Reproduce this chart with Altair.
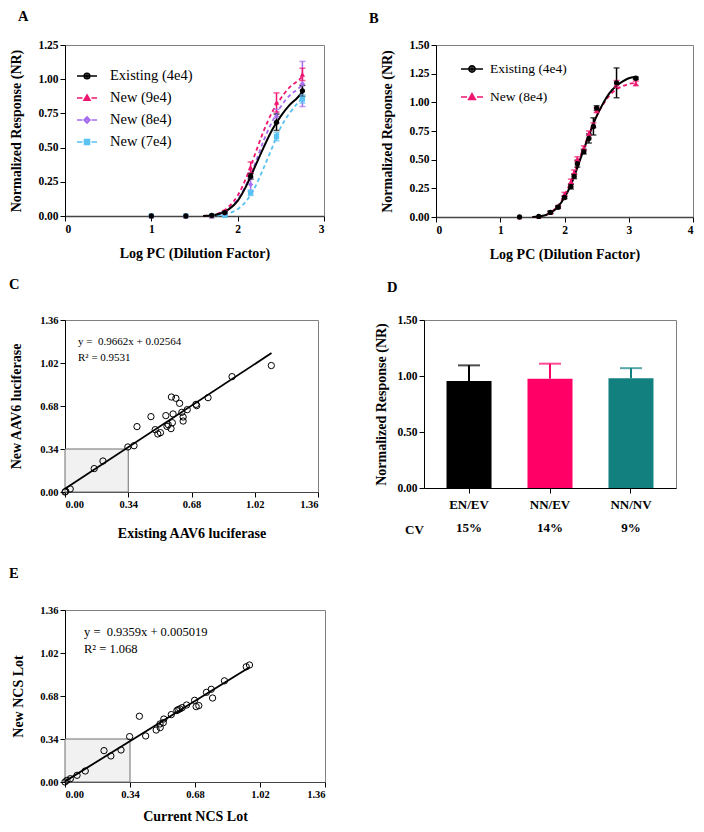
import altair as alt
import pandas as pd

FONT = "Liberation Serif"

# ---------------- Panel A data ----------------
A_series = ["Existing (4e4)", "New (9e4)", "New (8e4)", "New (7e4)"]
A_colors = ["#000000", "#F0166F", "#A56CF0", "#58C2F2"]
A_shapes = ["circle", "triangle-up", "diamond", "square"]
A_dashes = [[1, 0], [4, 3], [4, 3], [4, 3]]
A_x = [1.0, 1.4, 1.7, 1.85, 2.15, 2.45, 2.75]
A_y_exist = [0.0, 0.0, 0.005, 0.025, 0.29, 0.685, 0.915]
A_e_exist = [0.0, 0.0, 0.0, 0.006, 0.02, 0.06, 0.04]
A_y_new9 = [0.0, 0.0, 0.0, 0.03, 0.355, 0.83, 1.035]
A_e_new9 = [0.0, 0.0, 0.0, 0.01, 0.04, 0.07, 0.045]
A_y_new8 = [0.0, 0.0, 0.0, 0.02, 0.23, 0.73, 0.965]
A_e_new8 = [0.0, 0.0, 0.0, 0.01, 0.05, 0.05, 0.165]
A_y_new7 = [0.0, 0.0, 0.0, 0.005, 0.17, 0.58, 0.855]
A_e_new7 = [0.0, 0.0, 0.0, 0.005, 0.02, 0.03, 0.03]
A_cx = [1.6, 1.7, 1.8, 1.9, 2.0, 2.1, 2.2, 2.3, 2.4, 2.5, 2.6, 2.7, 2.75]
A_c_exist = [0.0, 0.004, 0.018, 0.05, 0.11, 0.22, 0.36, 0.50, 0.63, 0.73, 0.81, 0.87, 0.91]
A_c_new9 = [0.0, 0.006, 0.025, 0.07, 0.15, 0.28, 0.45, 0.62, 0.76, 0.86, 0.94, 0.99, 1.02]
A_c_new8 = [0.0, 0.005, 0.02, 0.055, 0.12, 0.23, 0.38, 0.55, 0.69, 0.80, 0.88, 0.93, 0.96]
A_c_new7 = [0.0, 0.0, 0.006, 0.02, 0.05, 0.11, 0.21, 0.35, 0.50, 0.65, 0.75, 0.83, 0.865]
A_xticks = [0, 1, 2, 3]
A_yticks = [0, 0.25, 0.5, 0.75, 1.0, 1.25]

# ---------------- Panel B data ----------------
B_series = ["Existing (4e4)", "New (8e4)"]
B_colors = ["#000000", "#F0166F"]
B_shapes = ["circle", "triangle-up"]
B_dashes = [[1, 0], [4, 3]]
B_x = [1.30, 1.60, 1.78, 1.90, 2.00, 2.10, 2.15, 2.20, 2.30, 2.38, 2.45, 2.50, 2.81, 3.11]
B_y_exist = [0.0, 0.005, 0.04, 0.085, 0.17, 0.265, 0.355, 0.465, 0.57, 0.685, 0.79, 0.95, 1.17, 1.21]
B_e_exist = [0.0, 0.0, 0.01, 0.01, 0.01, 0.02, 0.02, 0.03, 0.02, 0.04, 0.075, 0.02, 0.13, 0.01]
B_y_new8 = [0.0, 0.005, 0.04, 0.09, 0.20, 0.31, 0.39, 0.505, 0.60, 0.73, 0.80, 0.93, 1.16, 1.165]
B_e_new8 = [0.0, 0.0, 0.01, 0.01, 0.015, 0.02, 0.02, 0.02, 0.02, 0.02, 0.02, 0.02, 0.03, 0.02]
B_cx = [1.5, 1.6, 1.7, 1.8, 1.9, 2.0, 2.1, 2.2, 2.3, 2.4, 2.5, 2.6, 2.7, 2.8, 2.9, 3.0, 3.1]
B_c_exist = [0.0, 0.005, 0.015, 0.04, 0.09, 0.17, 0.28, 0.43, 0.59, 0.74, 0.88, 0.99, 1.08, 1.14, 1.18, 1.21, 1.22]
B_c_new8 = [0.0, 0.005, 0.017, 0.045, 0.10, 0.19, 0.31, 0.46, 0.61, 0.75, 0.88, 0.98, 1.06, 1.11, 1.14, 1.16, 1.17]
B_xticks = [0, 1, 2, 3, 4]
B_yticks = [0, 0.25, 0.5, 0.75, 1.0, 1.25, 1.5]

# ---------------- Panel C data ----------------
C_x = [0.0, 0.004, 0.028, 0.157, 0.204, 0.338, 0.371, 0.387, 0.462, 0.485, 0.499, 0.513,
       0.542, 0.548, 0.555, 0.572, 0.570, 0.577, 0.581, 0.596, 0.616, 0.628, 0.635, 0.635,
       0.657, 0.704, 0.708, 0.769, 0.898, 1.109]
C_y = [0.0, 0.005, 0.024, 0.185, 0.245, 0.356, 0.366, 0.517, 0.596, 0.493, 0.459, 0.469,
       0.604, 0.519, 0.532, 0.751, 0.501, 0.548, 0.617, 0.741, 0.701, 0.630, 0.593, 0.561,
       0.651, 0.693, 0.683, 0.746, 0.912, 1.0]
C_slope, C_intercept = 0.9662, 0.02564
C_fit_x = [0.0, 1.11]
C_eq = "y =\u00a0 0.9662x + 0.02564"
C_r2 = "R\u00b2 = 0.9531"

# ---------------- Panel D data ----------------
D_cats = ["EN/EV", "NN/EV", "NN/NV"]
D_mean = [0.955, 0.975, 0.98]
D_top = [1.095, 1.11, 1.07]
D_cv = ["15%", "14%", "9%"]
D_colors = ["#000000", "#FF0066", "#138080"]

# ---------------- Panel E data ----------------
E_x = [0.0, 0.010, 0.028, 0.063, 0.106, 0.204, 0.240, 0.293, 0.338, 0.389, 0.422, 0.477,
       0.498, 0.497, 0.514, 0.517, 0.556, 0.585, 0.592, 0.601, 0.613, 0.636, 0.678, 0.686,
       0.700, 0.740, 0.765, 0.772, 0.834, 0.948, 0.965]
E_y = [0.0, 0.013, 0.026, 0.053, 0.087, 0.248, 0.206, 0.253, 0.359, 0.520, 0.364, 0.411,
       0.430, 0.459, 0.469, 0.498, 0.533, 0.565, 0.572, 0.578, 0.588, 0.609, 0.646, 0.596,
       0.604, 0.709, 0.733, 0.664, 0.800, 0.911, 0.925]
E_slope, E_intercept = 0.9359, 0.005019
E_fit_x = [0.0, 0.965]
E_eq = "y =\u00a0 0.9359x + 0.005019"
E_r2 = "R\u00b2 = 1.068"

S_ticks = [0, 0.34, 0.68, 1.02, 1.36]

# legend symbol paths (line segment + marker), unit box [-1, 1]
LEG_SOLID = "M-1,0H1"
LEG_DASH = "M-1,0H-0.45M0.45,0H1"
MK_CIRCLE = ("M-0.28,0A0.28,0.28 0 1,0 0.28,0A0.28,0.28 0 1,0 -0.28,0Z"
             "M-0.1,0A0.1,0.1 0 1,0 0.1,0A0.1,0.1 0 1,0 -0.1,0Z")
MK_TRI = "M0,-0.3L0.3,0.22L-0.3,0.22ZM0,-0.08L0.1,0.1L-0.1,0.1Z"
MK_DIAM = "M0,-0.32L0.3,0L0,0.32L-0.3,0ZM0,-0.12L0.12,0L0,0.12L-0.12,0Z"
MK_SQ = "M-0.25,-0.25H0.25V0.25H-0.25ZM-0.1,-0.1H0.1V0.1H-0.1Z"
A_legpaths = [LEG_SOLID + MK_CIRCLE, LEG_DASH + MK_TRI, LEG_DASH + MK_DIAM, LEG_DASH + MK_SQ]
B_legpaths = [LEG_SOLID + MK_CIRCLE, LEG_DASH + MK_TRI]

AX_FONT = dict(labelFont=FONT, titleFont=FONT, labelFontWeight="bold", titleFontWeight="bold",
               labelColor="black", titleColor="black")


def long_points(series, xs, ys_list, es_list):
    rows = []
    for s, ys, es in zip(series, ys_list, es_list):
        for x, y, e in zip(xs, ys, es):
            rows.append(dict(series=s, x=x, y=y, lo=y - e, hi=y + e, err=e))
    return pd.DataFrame(rows)


def long_curves(series, xs, ys_list):
    rows = []
    for s, ys in zip(series, ys_list):
        for x, y in zip(xs, ys):
            rows.append(dict(series=s, x=x, y=y))
    return pd.DataFrame(rows)


def letter_title(text, dx, offset):
    return alt.TitleParams(text=text, anchor="start", frame="group", dx=dx, offset=offset,
                           baseline="alphabetic", font=FONT, fontSize=14.5,
                           fontWeight="bold", color="black")


def dose_panel(series, colors, shapes, dashes, legpaths, dfp, dfc, xdom, xticks, ydom, yticks,
               w, h, letter, ldx, loff, ytx, xty, legx, legy, legsize, legrow, legoff, legfs):
    xs = alt.Scale(domain=xdom, nice=False, zero=False)
    ys = alt.Scale(domain=ydom, nice=False)
    xax = alt.Axis(values=xticks, format="d", title="Log PC (Dilution Factor)", titleY=xty,
                   titleBaseline="middle", labelFontSize=11.5, domainColor="#444444",
                   domainWidth=1.5, labelAngle=0, **AX_FONT)
    yax = alt.Axis(values=yticks, format=".2f", title="Normalized Response (NR)", titleX=ytx,
                   titleY=h / 2, titleBaseline="middle", labelFontSize=11.5, **AX_FONT)

    def X(f="x"):
        return alt.X(f"{f}:Q", scale=xs, axis=xax)

    def Y(f="y"):
        return alt.Y(f"{f}:Q", scale=ys, axis=yax)

    def C(legend=None):
        return alt.Color("series:N", scale=alt.Scale(domain=series, range=colors), legend=legend)

    first = series[0]
    dash = alt.StrokeDash("series:N", scale=alt.Scale(domain=series, range=dashes), legend=None)
    lines_new = alt.Chart(dfc).transform_filter(alt.datum.series != first).mark_line(
        strokeWidth=1.8, interpolate="monotone").encode(x=X(), y=Y(), color=C(), strokeDash=dash)
    lines_old = alt.Chart(dfc).transform_filter(alt.datum.series == first).mark_line(
        strokeWidth=2, interpolate="monotone").encode(x=X(), y=Y(), color=C())
    eb = alt.Chart(dfp).transform_filter(alt.datum.err > 0)
    rules = eb.mark_rule(strokeWidth=1.5).encode(x=X(), y=Y("lo"), y2="hi:Q", color=C())
    cap_lo = eb.mark_tick(orient="horizontal", size=6, thickness=1.5).encode(
        x=X(), y=Y("lo"), color=C())
    cap_hi = eb.mark_tick(orient="horizontal", size=6, thickness=1.5).encode(
        x=X(), y=Y("hi"), color=C())
    pts = alt.Chart(dfp).mark_point(filled=True, size=28, opacity=1).encode(
        x=X(), y=Y(), color=C(),
        shape=alt.Shape("series:N", scale=alt.Scale(domain=series, range=shapes), legend=None))
    leg = alt.Legend(orient="none", legendX=legx, legendY=legy, title=None, labelFont=FONT,
                     labelFontSize=legfs, labelFontWeight="normal", labelColor="black",
                     symbolSize=legsize, symbolStrokeWidth=1.6, labelOffset=legoff,
                     rowPadding=legrow, padding=0, symbolOpacity=1, labelLimit=300)
    legl = alt.Chart(dfp).transform_filter("false").mark_point(
        filled=False, size=legsize, strokeWidth=1.6, opacity=1).encode(
        x=X(), y=Y(), color=C(leg),
        shape=alt.Shape("series:N", scale=alt.Scale(domain=series, range=legpaths), legend=leg))
    return alt.layer(lines_new, lines_old, rules, cap_lo, cap_hi, pts, legl).resolve_scale(
        color="independent", shape="independent", strokeDash="independent").properties(
        width=w, height=h, title=letter_title(letter, ldx, loff))


def scatter_panel(xv, yv, slope, intercept, fit_x, eq, r2, xtitle, ytitle, w, h, letter, ldx,
                  loff, ytx, xty, tx, ty1, ty2, tfs):
    sc = alt.Scale(domain=[0, 1.36], nice=False)
    xax = alt.Axis(values=S_ticks, format=".2f", title=xtitle, titleY=xty,
                   titleBaseline="middle", labelFontSize=10.5, domainColor="#444444",
                   labelAngle=0, **AX_FONT)
    yax = alt.Axis(values=S_ticks, format=".2f", title=ytitle, titleX=ytx, titleY=h / 2,
                   titleBaseline="middle", labelFontSize=10.5, **AX_FONT)
    box = alt.Chart(pd.DataFrame({"x": [0.0], "x2": [0.34], "y": [0.0], "y2": [0.34]})).mark_rect(
        fill="#f1f1f1", stroke="#6e6e6e", strokeWidth=1).encode(
        x=alt.X("x:Q", scale=sc, axis=xax), x2="x2:Q",
        y=alt.Y("y:Q", scale=sc, axis=yax), y2="y2:Q")
    fit = alt.Chart(pd.DataFrame({"x": fit_x})).transform_calculate(
        y=f"{slope} * datum.x + {intercept}").mark_line(color="black", strokeWidth=1.8).encode(
        x=alt.X("x:Q", scale=sc, axis=xax), y=alt.Y("y:Q", scale=sc, axis=yax))
    pts = alt.Chart(pd.DataFrame({"x": xv, "y": yv})).mark_point(
        filled=False, size=40, color="black", strokeWidth=1, opacity=1).encode(
        x=alt.X("x:Q", scale=sc, axis=xax), y=alt.Y("y:Q", scale=sc, axis=yax))
    t1 = alt.Chart(pd.DataFrame({"t": [eq]})).mark_text(
        align="left", baseline="middle", font=FONT, fontSize=tfs, color="black").encode(
        x=alt.value(tx), y=alt.value(ty1), text="t:N")
    t2 = alt.Chart(pd.DataFrame({"t": [r2]})).mark_text(
        align="left", baseline="middle", font=FONT, fontSize=tfs, color="black").encode(
        x=alt.value(tx), y=alt.value(ty2), text="t:N")
    return alt.layer(box, fit, pts, t1, t2).properties(
        width=w, height=h, title=letter_title(letter, ldx, loff))


# ---------------- build panels ----------------
dfA_p = long_points(A_series[::-1], A_x,
                    [A_y_new7, A_y_new8, A_y_new9, A_y_exist],
                    [A_e_new7, A_e_new8, A_e_new9, A_e_exist])
dfA_c = long_curves(A_series[::-1], A_cx, [A_c_new7, A_c_new8, A_c_new9, A_c_exist])
chartA = dose_panel(A_series, A_colors, A_shapes, A_dashes, A_legpaths, dfA_p, dfA_c,
                    [0, 3], A_xticks, [0, 1.25], A_yticks, 259, 171, "A", -47, 4,
                    -49, 37, 11, 20, 400, 4, 12, 14.5)

dfB_p = long_points(B_series[::-1], B_x, [B_y_new8, B_y_exist], [B_e_new8, B_e_exist])
dfB_c = long_curves(B_series[::-1], B_cx, [B_c_new8, B_c_exist])
chartB = dose_panel(B_series, B_colors, B_shapes, B_dashes, B_legpaths, dfB_p, dfB_c,
                    [0, 4], B_xticks, [0, 1.5], B_yticks, 257, 172, "B", -67, 2,
                    -49, 37, 24, 12, 484, 9, 6, 13.5)

chartC = scatter_panel(C_x, C_y, C_slope, C_intercept, C_fit_x, C_eq, C_r2,
                       "Existing AAV6 luciferase", "New AAV6 luciferase", 253, 172, "C", -56, 12,
                       -49, 41, 13, 22, 38, 11)

chartE = scatter_panel(E_x, E_y, E_slope, E_intercept, E_fit_x, E_eq, E_r2,
                       "Current NCS Lot", "New NCS Lot", 260, 172, "E", -56, 13,
                       -47, 34, 19, 22, 39, 12.5)

# Panel D
dfD = pd.DataFrame({"cat": D_cats, "mean": D_mean, "top": D_top})
cv_expr = "'" + D_cv[-1] + "'"
for c, v in list(zip(D_cats, D_cv))[-2::-1]:
    cv_expr = f"datum.label == '{c}' ? '{v}' : ({cv_expr})"
label_expr = f"[datum.label, {cv_expr}]"
xD = alt.X("cat:N", sort=D_cats,
           scale=alt.Scale(domain=D_cats, paddingInner=0.444, paddingOuter=0.278),
           axis=alt.Axis(title="CV", titleX=-10, titleY=41, titleBaseline="middle",
                         titleAlign="center", titleFontSize=13, labelFontSize=13, labelAngle=0,
                         labelExpr=label_expr, labelLineHeight=23, labelPadding=5, **AX_FONT))
yD_scale = alt.Scale(domain=[0, 1.5], nice=False)
yD_axis = alt.Axis(values=[0, 0.5, 1.0, 1.5], format=".2f", title="Normalized Response (NR)",
                   titleX=-43, titleY=84, titleBaseline="middle", labelFontSize=11.5, **AX_FONT)
colD = alt.Color("cat:N", scale=alt.Scale(domain=D_cats, range=D_colors), legend=None)
baseD = alt.Chart(dfD)
barsD = baseD.mark_bar().encode(x=xD, y=alt.Y("mean:Q", scale=yD_scale, axis=yD_axis), color=colD)
stemD = baseD.mark_rule(strokeWidth=2).encode(
    x=xD, y=alt.Y("mean:Q", scale=yD_scale, axis=yD_axis), y2="top:Q", color=colD)
capD = baseD.mark_tick(size=22, thickness=2, orient="horizontal").encode(
    x=xD, y=alt.Y("top:Q", scale=yD_scale, axis=yD_axis), color=colD)
chartD = alt.layer(stemD, barsD, capD).properties(
    width=252, height=168, title=letter_title("D", -37, 8))

row1 = alt.hconcat(chartA, chartB, spacing=112, bounds="flush")
row2 = alt.hconcat(chartC, chartD, spacing=106, bounds="flush")
top = alt.concat(row1, row2, columns=1, align="none", spacing=14)
chart = alt.concat(top, chartE, columns=1, align="none", spacing=24).properties(
    padding=0).configure_axis(
    labelFont=FONT, titleFont=FONT, labelFontWeight="bold", titleFontWeight="bold",
    labelColor="black", titleColor="black", titleFontSize=14, tickSize=5, tickColor="black",
    domainColor="black", grid=False, labelPadding=2
).configure_view(stroke="#808080", strokeWidth=1)

chart.save("out.html", embed_options={"renderer": "svg", "actions": False})
